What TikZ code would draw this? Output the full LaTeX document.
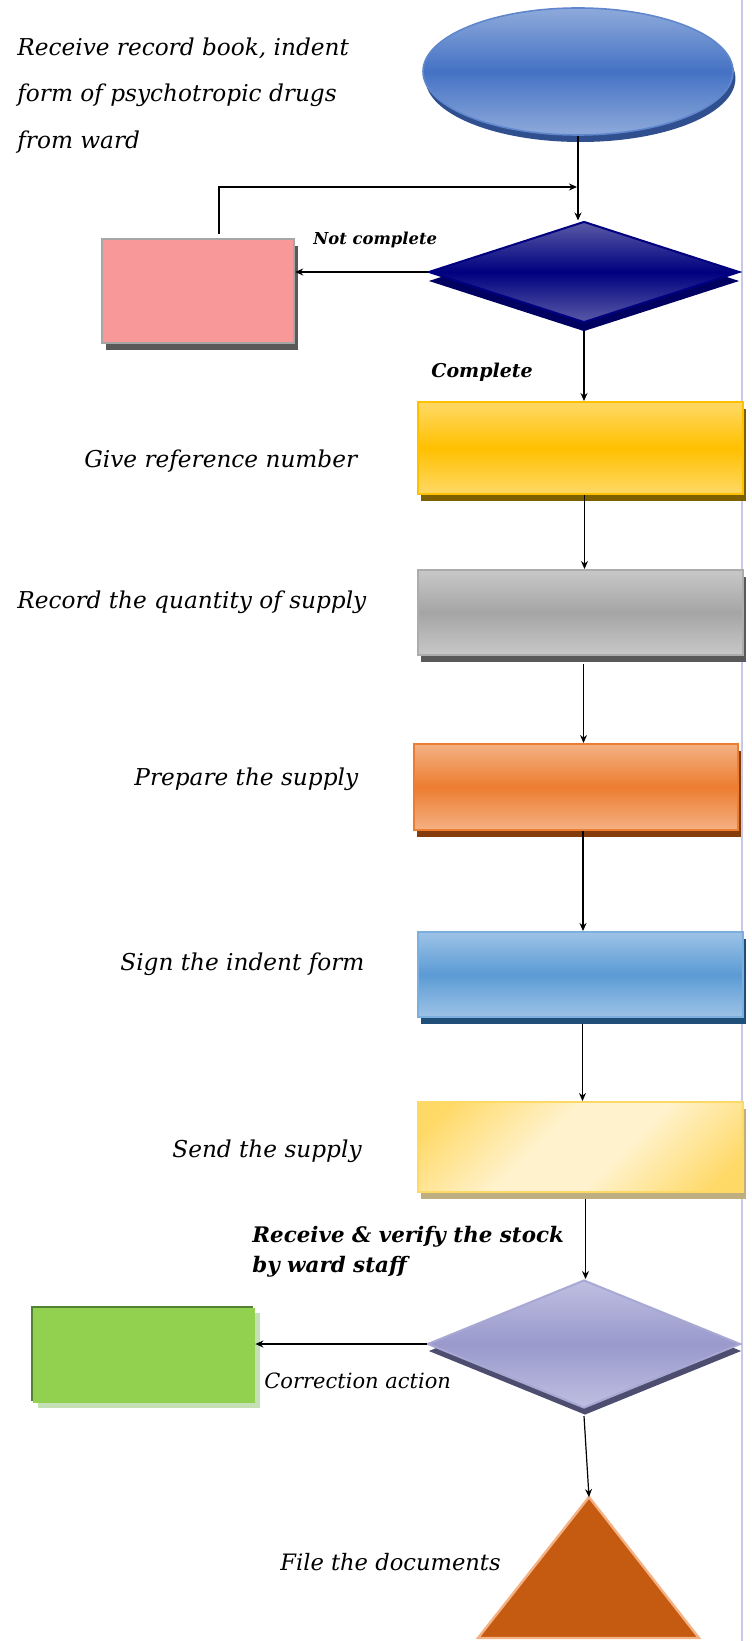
\documentclass[tikz,border=0pt]{standalone}
\usepackage{fontspec}
\setmainfont{DejaVu Serif}
\usetikzlibrary{shapes.geometric,shadows,arrows.meta}
\definecolor{ellL}{HTML}{8EAADB}
\definecolor{ellM}{HTML}{4472C4}
\definecolor{ellS}{HTML}{2F4F8F}
\definecolor{dnL}{HTML}{5A5AA6}
\definecolor{dnM}{HTML}{000080}
\definecolor{dnS}{HTML}{000060}
\definecolor{pinkF}{HTML}{F89898}
\definecolor{pinkB}{HTML}{A6A6A6}
\definecolor{grayS}{HTML}{595959}
\definecolor{yelL}{HTML}{FFD966}
\definecolor{yelM}{HTML}{FFC000}
\definecolor{yelS}{HTML}{7F6000}
\definecolor{gryL}{HTML}{C8C8C8}
\definecolor{gryM}{HTML}{A5A5A5}
\definecolor{gryB}{HTML}{ACACAC}
\definecolor{orgL}{HTML}{F4B183}
\definecolor{orgM}{HTML}{ED7D31}
\definecolor{orgS}{HTML}{843C0C}
\definecolor{bluL}{HTML}{9DC3E6}
\definecolor{bluM}{HTML}{5B9BD5}
\definecolor{bluS}{HTML}{1F4E79}
\definecolor{lyA}{HTML}{FFD966}
\definecolor{lyB}{HTML}{FFF2CC}
\definecolor{lyS}{HTML}{BFAE7F}
\definecolor{lavL}{HTML}{BFBFE2}
\definecolor{lavM}{HTML}{9999CC}
\definecolor{lavS}{HTML}{4D4D70}
\definecolor{grnF}{HTML}{92D050}
\definecolor{grnD}{HTML}{548235}
\definecolor{grnS}{HTML}{C5E0B4}
\definecolor{triF}{HTML}{C55A11}
\definecolor{triB}{HTML}{F4B183}
\definecolor{vline}{HTML}{C8C8E8}
\pgfdeclarehorizontalshading{lyshade}{100bp}{color(0bp)=(lyA); color(20bp)=(lyA); color(42bp)=(lyB); color(58bp)=(lyB); color(80bp)=(lyA); color(100bp)=(lyA)}
\begin{document}
\begin{tikzpicture}[x=0.5pt,y=-0.5pt,
  box/.style={rectangle, inner sep=0pt, minimum width=162.5pt, line width=1pt},
  dia/.style={diamond, inner sep=0pt, line width=1pt},
  arr/.style={-{Stealth[length=4pt,width=3.5pt]}, line width=0.6pt, black},
  lab/.style={anchor=base west, inner sep=0pt, font=\fontsize{11.6}{14}\selectfont\itshape},
  blab/.style={anchor=base west, inner sep=0pt, align=left, font=\fontsize{10.7}{15}\selectfont\bfseries\itshape}
]
\fill[white] (0,0) rectangle (751,1641);
\useasboundingbox (0,0) rectangle (751,1641);
\draw[vline, line width=0.6pt] (742,0) -- (742,1641);

% shapes
\node[ellipse, inner sep=0pt, minimum width=155pt, minimum height=63.5pt,
  draw=ellM!85!white, line width=0.8pt,
  general shadow={shadow xshift=1.2pt, shadow yshift=-3.5pt, fill=ellS, opacity=1},
  top color=ellL, bottom color=ellL, middle color=ellM] (ell) at (578,71.5) {};

\node[dia, minimum width=155.5pt, minimum height=50.5pt, draw=dnM,
  general shadow={shadow yshift=-4.5pt, fill=dnS, opacity=1},
  top color=dnL, bottom color=dnL, middle color=dnM] (d1) at (584,272) {};

\node[rectangle, inner sep=0pt, minimum width=96pt, minimum height=52pt,
  fill=pinkF, draw=pinkB, line width=1.2pt,
  general shadow={shadow xshift=2pt, shadow yshift=-3.5pt, fill=grayS, opacity=1}] (pink) at (198,291) {};

\node[box, minimum height=46pt, draw=yelM,
  general shadow={shadow xshift=1.5pt, shadow yshift=-3.5pt, fill=yelS, opacity=1},
  top color=yelL, bottom color=yelL, middle color=yelM] (yel) at (580.5,448) {};

\node[box, minimum height=42.5pt, draw=gryB,
  general shadow={shadow xshift=1.5pt, shadow yshift=-3.5pt, fill=grayS, opacity=1},
  top color=gryL, bottom color=gryL, middle color=gryM] (gry) at (580.5,612.5) {};

\node[box, minimum width=162pt, minimum height=43pt, draw=orgM,
  general shadow={shadow xshift=1.5pt, shadow yshift=-3.5pt, fill=orgS, opacity=1},
  top color=orgL, bottom color=orgL, middle color=orgM] (org) at (576,787) {};

\node[box, minimum height=42.5pt, draw=bluM!80!white,
  general shadow={shadow xshift=1.5pt, shadow yshift=-3.5pt, fill=bluS, opacity=1},
  top color=bluL, bottom color=bluL, middle color=bluM] (blu) at (580.5,974.5) {};

\node[box, minimum height=45pt, draw=lyA,
  general shadow={shadow xshift=1.5pt, shadow yshift=-3.5pt, fill=lyS, opacity=1},
  shading=lyshade, shading angle=-45] (lyel) at (580.5,1147) {};

\node[dia, minimum width=156.5pt, minimum height=64pt, draw=lavM!85!white,
  general shadow={shadow xshift=0.5pt, shadow yshift=-3.5pt, fill=lavS, opacity=1},
  top color=lavL, bottom color=lavL, middle color=lavM] (d2) at (584,1344) {};

\node[rectangle, inner sep=0pt, minimum width=111pt, minimum height=47.5pt, fill=grnF,
  general shadow={shadow xshift=2.5pt, shadow yshift=-2.5pt, fill=grnS, opacity=1},
  general shadow={shadow xshift=-1pt, shadow yshift=1pt, fill=grnD, opacity=1}] (grn) at (144,1355.5) {};

\coordinate (tri) at (589,1497);
\filldraw[fill=triF, draw=triB, line width=1.2pt, line join=miter] (tri) -- (699,1638) -- (478,1638) -- cycle;

% labels
\node[lab, align=left, anchor=north west, font=\fontsize{11.6}{23.25}\selectfont\itshape] (intro) at (17,37)
  {Receive record book, indent\\form of psychotropic drugs\\from ward};
\node[lab] (l1) at (84,468) {Give reference number};
\node[lab] (l2) at (17,608) {Record the quantity of supply};
\node[lab] (l3) at (134,785) {Prepare the supply};
\node[lab] (l4) at (120,970) {Sign the indent form};
\node[lab] (l5) at (172,1157) {Send the supply};
\node[lab, font=\fontsize{10.5}{13}\selectfont\itshape] (l6) at (264,1388) {Correction action};
\node[lab, font=\fontsize{11.3}{14}\selectfont\itshape] (l7) at (280,1570) {File the documents};
\node[blab, font=\fontsize{8.2}{10}\selectfont\bfseries\itshape] (nc) at (313,245) {Not complete};
\node[blab, font=\fontsize{9.5}{12}\selectfont\bfseries\itshape] (cp) at (431,378) {Complete};
\node[blab, anchor=north west] (rv) at (252,1226) {Receive \& verify the stock\\by ward staff};

% connectors
\coordinate (fb) at (577,187);
\draw[arr] (ell.south) -- (ell.south |- d1.north);
\draw[arr] (d1.west) -- (d1.west -| pink.east);
\draw[arr] ([xshift=10.5pt,yshift=2pt]pink.north) |- (fb);
\draw[arr] ([yshift=-4pt]d1.south) -- (d1.south |- yel.north);
\draw[arr] ([xshift=2pt]yel.south) -- ([xshift=2pt]yel.south |- gry.north);
\draw[arr] ([xshift=1.5pt,yshift=-4pt]gry.south) -- ([xshift=1.5pt]gry.south |- org.north);
\draw[arr] ([xshift=3.5pt]org.south) -- ([xshift=3.5pt]org.south |- blu.north);
\draw[arr] ([xshift=1pt,yshift=-3pt]blu.south) -- ([xshift=1pt]blu.south |- lyel.north);
\draw[arr] ([xshift=2.5pt,yshift=-3pt]lyel.south) -- ([xshift=2.5pt]lyel.south |- d2.north);
\draw[arr] (d2.west) -- (d2.west -| grn.east);
\draw[arr] ([yshift=-3.5pt]d2.south) -- (tri);
\end{tikzpicture}
\end{document}
